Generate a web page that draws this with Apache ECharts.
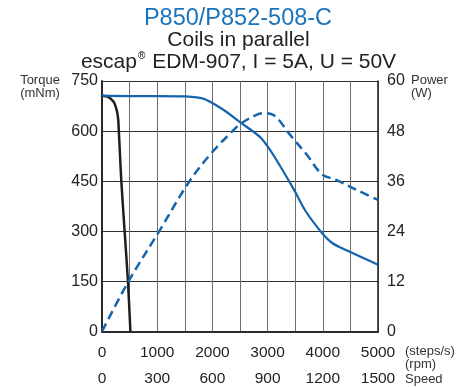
<!DOCTYPE html>
<html>
<head>
<meta charset="utf-8">
<script src="https://cdn.jsdelivr.net/npm/echarts@6/dist/echarts.min.js"></script>
<style>
html,body{margin:0;padding:0;background:#fff;}
#c{width:469px;height:387px;}
</style>
</head>
<body>
<div id="c"></div>
<script>
// ---- data ----
var blackSteps  = [0, 100, 170, 220, 253, 280, 296, 305, 320, 350, 410, 470, 515];
var blackTorque = [706, 703, 695, 685, 670, 652, 630, 600, 550, 450, 300, 150, 0];

var torqueSteps = [0, 500, 1000, 1500, 1750, 1885, 2000, 2250, 2500, 2850, 3000, 3210, 3480, 3690, 3990, 4170, 4470, 5000];
var torqueVals  = [706, 705, 705, 704, 700, 694, 684, 658, 627, 584, 554, 500, 424, 360, 294, 265, 240, 200];

var powerSteps  = [0, 480, 1035, 1585, 2000, 2365, 2515, 2800, 2950, 3100, 3210, 3390, 3700, 3990, 4230, 4600, 5000];
var powerVals   = [0, 12, 24, 36, 43, 48, 49.8, 51.9, 52.3, 51.9, 50.6, 47.4, 42.5, 37.6, 36.4, 34.0, 31.5];

var stepTicks  = [0, 1000, 2000, 3000, 4000, 5000];
var rpmTicks   = [0, 300, 600, 900, 1200, 1500];
var torqueTicks = [0, 150, 300, 450, 600, 750];
var powerTicks  = [0, 12, 24, 36, 48, 60];

function pairs(xs, ys){ return xs.map(function(x,i){ return [x, ys[i]]; }); }

var FONT = "'Liberation Sans', Arial, Helvetica, sans-serif";
var BLUE = '#1464ae';

var chart = echarts.init(document.getElementById('c'), null, {renderer:'canvas'});
chart.setOption({
  animation: false,
  backgroundColor: '#fff',
  textStyle: {fontFamily: FONT},
  grid: {left: 102, right: 91, top: 81, height: 250.5, containLabel: false, outerBoundsMode: 'none'},
  xAxis: {
    type: 'value', min: 0, max: 5000, interval: 500,
    axisLine: {show: true, onZero: false, lineStyle: {color: '#2a2a2a', width: 2}},
    axisTick: {show: false},
    splitLine: {show: true, lineStyle: {color: '#6e6e6e', width: 1}},
    axisLabel: {
      margin: 8, color: '#222', fontFamily: FONT,
      showMinLabel: true, showMaxLabel: true,
      formatter: function(v){
        var i = stepTicks.indexOf(v);
        if (i < 0) return '';
        return '{a|' + stepTicks[i] + '}\n{a|' + rpmTicks[i] + '}';
      },
      rich: {a: {fontSize: 15.5, lineHeight: 26, color: '#222', fontFamily: FONT}}
    }
  },
  yAxis: [{
    type: 'value', min: 0, max: 750, interval: 150, position: 'left',
    axisLine: {show: true, lineStyle: {color: '#2a2a2a', width: 2}},
    axisTick: {show: false},
    splitLine: {show: true, lineStyle: {color: '#2f2f2f', width: 1}},
    axisLabel: {margin: 4, fontSize: 16, color: '#222', fontFamily: FONT,
      formatter: function(v){ var i = torqueTicks.indexOf(v); return i < 0 ? '' : String(torqueTicks[i]); }}
  }, {
    type: 'value', min: 0, max: 60, interval: 12, position: 'right',
    axisLine: {show: true, lineStyle: {color: '#2a2a2a', width: 1.6}},
    axisTick: {show: false},
    splitLine: {show: false},
    axisLabel: {margin: 9, fontSize: 16, color: '#222', fontFamily: FONT,
      formatter: function(v){ var i = powerTicks.indexOf(v); return i < 0 ? '' : String(powerTicks[i]); }}
  }],
  series: [{
    type: 'line', data: pairs(blackSteps, blackTorque), yAxisIndex: 0,
    showSymbol: false, smooth: 0.3, lineStyle: {color: '#1e1e1e', width: 2.5}, z: 3
  }, {
    type: 'line', data: pairs(torqueSteps, torqueVals), yAxisIndex: 0,
    showSymbol: false, smooth: 0.35, lineStyle: {color: BLUE, width: 2.2}, z: 4
  }, {
    type: 'line', data: pairs(powerSteps, powerVals), yAxisIndex: 1,
    showSymbol: false, smooth: 0.35, lineStyle: {color: BLUE, width: 2.5, type: [9, 5]}, z: 4
  }],
  graphic: [
    {type: 'text', x: 238, y: 19, style: {text: 'P850/P852-508-C', fontSize: 23.5, fill: '#1a73bb', fontFamily: FONT, textAlign: 'center', textVerticalAlign: 'middle'}},
    {type: 'text', x: 238.5, y: 40, style: {text: 'Coils in parallel', fontSize: 21, fill: '#222', fontFamily: FONT, textAlign: 'center', textVerticalAlign: 'middle'}},
    {type: 'text', x: 238.5, y: 62, style: {
      text: '{a|escap}{s|®}{a| EDM-907, I = 5A, U = 50V}', textAlign: 'center', textVerticalAlign: 'middle',
      rich: {a: {fontSize: 21, fill: '#222', color: '#222', fontFamily: FONT, lineHeight: 22},
             s: {fontSize: 10, color: '#222', fontFamily: FONT, verticalAlign: 'top', lineHeight: 22, padding: [0, 1, 8, 1]}}
    }},
    {type: 'text', x: 40, y: 80, style: {text: 'Torque', fontSize: 13, fill: '#333', fontFamily: FONT, textAlign: 'center', textVerticalAlign: 'middle'}},
    {type: 'text', x: 40, y: 93, style: {text: '(mNm)', fontSize: 13, fill: '#333', fontFamily: FONT, textAlign: 'center', textVerticalAlign: 'middle'}},
    {type: 'text', x: 411, y: 80, style: {text: 'Power', fontSize: 13, fill: '#333', fontFamily: FONT, textAlign: 'left', textVerticalAlign: 'middle'}},
    {type: 'text', x: 411, y: 93, style: {text: '(W)', fontSize: 13, fill: '#333', fontFamily: FONT, textAlign: 'left', textVerticalAlign: 'middle'}},
    {type: 'text', x: 405, y: 351, style: {text: '(steps/s)', fontSize: 13, fill: '#333', fontFamily: FONT, textAlign: 'left', textVerticalAlign: 'middle'}},
    {type: 'text', x: 405, y: 364, style: {text: '(rpm)', fontSize: 13, fill: '#333', fontFamily: FONT, textAlign: 'left', textVerticalAlign: 'middle'}},
    {type: 'text', x: 405, y: 379, style: {text: 'Speed', fontSize: 13, fill: '#333', fontFamily: FONT, textAlign: 'left', textVerticalAlign: 'middle'}}
  ]
});
</script>
</body>
</html>
